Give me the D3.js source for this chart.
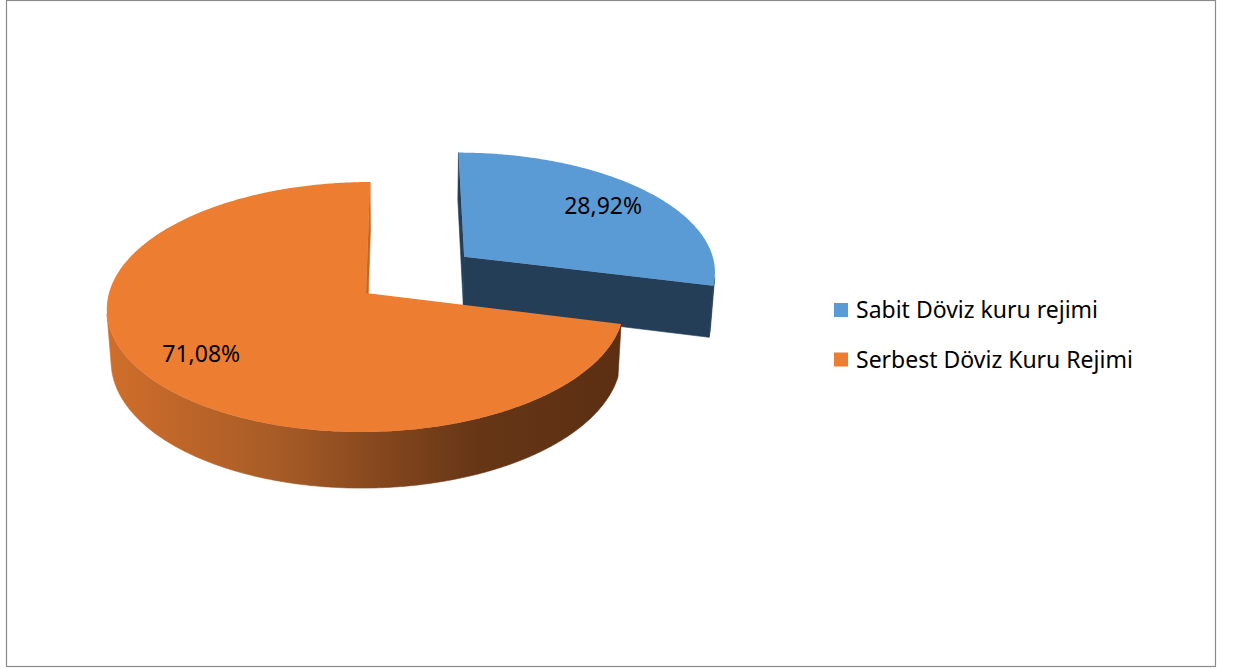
<!DOCTYPE html>
<html>
<head>
<meta charset="utf-8">
<script src="https://cdn.jsdelivr.net/npm/d3@7"></script>
<style>
  body { margin: 0; background: #fff; }
  svg { display: block; }
</style>
</head>
<body>
<svg id="chart" width="1238" height="669"></svg>
<script>
// Exchange-rate regime shares (%)
const categories = ["Sabit Döviz kuru rejimi", "Serbest Döviz Kuru Rejimi"];
const shares = [28.92, 71.08];
const valueLabels = ["28,92%", "71,08%"];
const topColors = ["#5B9BD5", "#ED7D31"];
const explodeFactor = [1, 0];

const svg = d3.select("#chart");
const defs = svg.append("defs");

// chart frame
svg.append("rect")
  .attr("x", 6.5).attr("y", 0.5)
  .attr("width", 1209).attr("height", 666)
  .attr("fill", "#fff")
  .attr("stroke", "#8a8a8a").attr("stroke-width", 1.2);

// ---- 3D pie projection ----
const R = 257;            // pie radius (world units)
const T = 60;             // pie thickness
const tilt = 28.7 * Math.PI / 180;
const dist = 2012;        // camera distance for perspective
const apexX = 366, apexY = 293, camOff = 40;
const explodeDist = 127;

// x right, y up, z toward the viewer
function project(x, y, z) {
  const yr = y * Math.cos(tilt) - z * Math.sin(tilt);
  const zr = y * Math.sin(tilt) + z * Math.cos(tilt);
  const s = dist / (dist - zr);
  return [apexX + camOff + (x - camOff) * s, apexY - yr * s];
}

const pie = d3.pie().sort(null).value(d => d).startAngle(0).endAngle(2 * Math.PI);
const arcs = pie(shares).map((d, i) => {
  const mid = (d.startAngle + d.endAngle) / 2;
  return Object.assign(d, {
    i, mid,
    ox: explodeFactor[i] * explodeDist * Math.sin(mid),
    oz: -explodeFactor[i] * explodeDist * Math.cos(mid)
  });
});

const pt = (d, theta, r, h) =>
  project(d.ox + r * Math.sin(theta), h, d.oz - r * Math.cos(theta));

function samples(a, b) {
  const n = Math.max(2, Math.ceil((b - a) / (Math.PI / 360)));
  return d3.range(n + 1).map(k => a + (b - a) * k / n);
}
function shoelace(poly) {
  let s = 0;
  for (let k = 0; k < poly.length; k++) {
    const p = poly[k], q = poly[(k + 1) % poly.length];
    s += p[0] * q[1] - q[0] * p[1];
  }
  return s;
}
const line = d3.line().curve(d3.curveLinearClosed);

// side shading for the orange slice wall (lighter on the left, dark on the right)
const sideStops = [
  [0.00, "#D06E2B"], [0.34, "#A65B26"], [0.54, "#84461D"],
  [0.72, "#663616"], [1.00, "#5C2F12"]
];
const blueSide = "#243E57";

// back slices first
const order = arcs.slice().sort((a, b) => a.oz - b.oz);

order.forEach(d => {
  const g = svg.append("g");
  const thetas = samples(d.startAngle, d.endAngle);
  const top = thetas.map(t => pt(d, t, R, 0));
  const bot = thetas.map(t => pt(d, t, R, -T));
  const apexTop = pt(d, 0, 0, 0), apexBot = pt(d, 0, 0, -T);

  let wallFill, faceFill;
  if (d.i === 1) {
    const xs = top.map(p => p[0]);
    const grad = defs.append("linearGradient")
      .attr("id", "side" + d.i)
      .attr("gradientUnits", "userSpaceOnUse")
      .attr("x1", d3.min(xs)).attr("x2", d3.max(xs))
      .attr("y1", 0).attr("y2", 0);
    sideStops.forEach(s => grad.append("stop").attr("offset", s[0]).attr("stop-color", s[1]));
    wallFill = "url(#side" + d.i + ")";
    faceFill = "#C8661F";
  } else {
    wallFill = blueSide;
    faceFill = blueSide;
  }

  // outer wall: keep only runs of segments facing the camera
  let run = null;
  const runs = [];
  for (let k = 0; k < thetas.length - 1; k++) {
    const vis = shoelace([top[k], top[k + 1], bot[k + 1], bot[k]]) < 0;
    if (vis) {
      if (!run) { run = [k]; runs.push(run); }
      run.push(k + 1);
    } else run = null;
  }
  runs.forEach(r => {
    const a = r[0], b = r[r.length - 1];
    const poly = top.slice(a, b + 1).concat(bot.slice(a, b + 1).reverse());
    g.append("path").attr("d", line(poly))
      .attr("fill", wallFill).attr("stroke", wallFill).attr("stroke-width", 0.6);
  });

  // radial cut faces
  const endIdx = thetas.length - 1;
  const endFace = [apexTop, top[endIdx], bot[endIdx], apexBot];
  const startFace = [top[0], apexTop, apexBot, bot[0]];
  [endFace, startFace].forEach(f => {
    if (shoelace(f) > 0) {
      g.append("path").attr("d", line(f))
        .attr("fill", faceFill).attr("stroke", faceFill).attr("stroke-width", 0.6);
    }
  });

  // top face
  g.append("path").attr("d", line([apexTop].concat(top)))
    .attr("fill", topColors[d.i]);
});

// value labels on the top faces
const labelFrac = 0.76;
svg.append("g").selectAll("text")
  .data(arcs)
  .join("text")
  .attr("transform", d => {
    const p = pt(d, d.mid, R * labelFrac, 0);
    return `translate(${p[0]},${p[1]})`;
  })
  .attr("text-anchor", "middle")
  .attr("dy", "0.357em")
  .attr("font-family", "'Noto Sans', 'Open Sans', sans-serif")
  .attr("font-size", 23)
  .attr("fill", "#000")
  .text((d, i) => valueLabels[i]);

// legend
const legendY = d3.scalePoint().domain(categories).range([310, 359.5]);
const legend = svg.append("g").selectAll("g")
  .data(categories)
  .join("g")
  .attr("transform", c => `translate(834,${legendY(c)})`);
legend.append("rect")
  .attr("x", 0).attr("y", -7)
  .attr("width", 14).attr("height", 14)
  .attr("fill", (c, i) => topColors[i]);
legend.append("text")
  .attr("x", 22).attr("y", 8)
  .attr("font-family", "'Noto Sans', 'Open Sans', sans-serif")
  .attr("font-size", 23)
  .attr("fill", "#000")
  .text(c => c);
</script>
</body>
</html>
